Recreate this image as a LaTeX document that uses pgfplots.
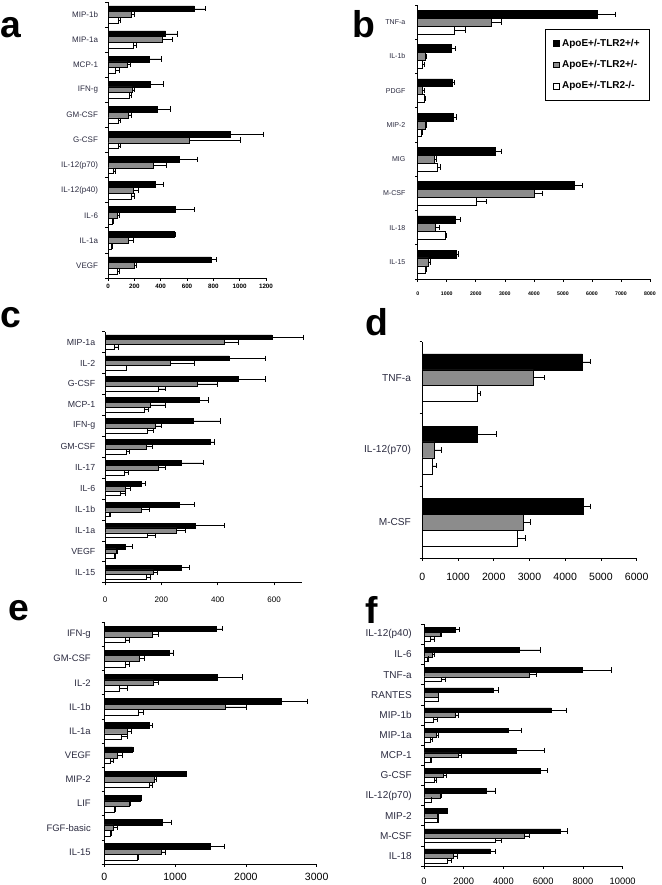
\documentclass[border=0pt]{standalone}
\usepackage{fontspec}
\setmainfont{Liberation Sans}
\usepackage{pgfplots}
\usepackage{pgfplotstable}
\pgfplotsset{compat=1.18}
\definecolor{barg}{HTML}{8C8C8C}
\definecolor{lab}{HTML}{2B2B40}

% panel a
\pgfplotstableread{
k b be g ge w we
0 656 86 173 30 76 18
1 437 89 412 76 191 25
2 310 94 145 25 58 26
3 318 102 186 17 165 13
4 376 94 153 25 76 18
5 928 254 618 386 76 18
6 542 137 343 102 38 20
7 356 64 191 38 173 25
8 508 148 69 20 30 8
9 501 7 153 38 25 8
10 781 45 203 13 69 20
}\tabA
% panel b
\pgfplotstableread{
k b be g ge w we
0 6200 597 2549 344 1263 367
1 1148 138 253 57 161 57
2 1194 69 161 57 218 35
3 1228 115 276 34 138 34
4 2687 183 574 80 689 80
5 5396 287 4018 287 2032 345
6 1286 172 597 149 941 58
7 1343 57 367 58 253 57
}\tabB
% panel c
\pgfplotstableread{
k b be g ge w we
0 592 110 422 49 32 15
1 440 128 231 85 75 2
2 473 95 329 70 189 24
3 334 32 162 51 138 16
4 314 94 180 19 151 21
5 375 12 148 18 77 8
6 270 80 189 25 67 14
7 127 15 71 18 53 18
8 263 53 127 29 15 3
9 320 104 254 30 151 27
10 71 27 39 5 32 4
11 270 28 172 15 148 12
}\tabC
% panel d
\pgfplotstableread{
k b be g ge w we
0 4478 214 3106 299 1549 83
1 1549 531 336 186 289 112
2 4506 186 2827 187 2650 220
}\tabD
% panel e
\pgfplotstableread{
k b be g ge w we
0 1578 89 683 80 292 61
1 918 57 495 70 292 61
2 1597 353 692 71 212 113
3 2506 362 1715 287 480 71
4 636 47 325 52 245 80
5 396 10 184 75 80 47
6 1149 14 702 38 631 52
7 513 10 353 10 137 14
8 820 131 127 57 80 24
9 1503 193 801 66 471 9
}\tabE
% panel f
\pgfplotstableread{
k b be g ge w we
0 1594 185 805 84 302 201
1 4799 1040 436 84 168 50
2 7987 1459 5302 369 889 168
3 3490 252 721 20 721 20
4 6393 755 1560 168 470 201
5 4245 671 638 83 336 100
6 4664 1393 1728 134 302 50
7 5839 386 973 168 520 118
8 3121 453 805 84 352 30
9 1141 20 688 30 671 30
10 6879 336 5034 251 3607 269
11 3322 285 1477 218 1174 185
}\tabF

\pgfplotsset{
 panel/.style={
   scale only axis, anchor=south west,
   axis lines*=left, axis line style={-, black, line width=0.5pt},
   xmin=0, ymin=0, enlargelimits=false, clip=false,
   tick align=outside, major tick length=2pt,
   tick style={black, line width=0.5pt},
   scaled x ticks=false,
   /pgf/number format/assume math mode=true,
   /pgf/number format/1000 sep={},
   yticklabels={},
   extra y tick style={major tick length=0pt},
   yticklabel style={text=lab},
   xbar, bar width=0.23,
   error bars/x dir=plus, error bars/x explicit,
   error bars/error bar style={black, line width=0.4pt},
   error bars/error mark options={black, line width=0.4pt, mark size=2pt, rotate=90},
 },
 sb/.style={fill=black, draw=black, line width=0.4pt, bar shift=0.23},
 sg/.style={fill=barg, draw=black, line width=0.4pt, bar shift=0},
 sw/.style={fill=white, draw=black, line width=0.4pt, bar shift=-0.23},
}

\begin{document}
\begin{tikzpicture}
\path[use as bounding box] (0pt,0pt) rectangle (495.75pt,-663.75pt);

% letters
\node[anchor=base west, inner sep=0pt, font=\fontsize{28}{28}\selectfont\bfseries] at (0pt,-27.75pt) {a};
\node[anchor=base west, inner sep=0pt, font=\fontsize{28}{28}\selectfont\bfseries] at (264pt,-27.75pt) {b};
\node[anchor=base west, inner sep=0pt, font=\fontsize{28}{28}\selectfont\bfseries] at (0pt,-245.25pt) {c};
\node[anchor=base west, inner sep=0pt, font=\fontsize{28}{28}\selectfont\bfseries] at (273.75pt,-251.25pt) {d};
\node[anchor=base west, inner sep=0pt, font=\fontsize{28}{28}\selectfont\bfseries] at (6pt,-465pt) {e};
\node[anchor=base west, inner sep=0pt, font=\fontsize{28}{28}\selectfont\bfseries] at (273.75pt,-467.25pt) {f};

% ---------- a ----------
\begin{axis}[panel, at={(81pt,-208.5pt)}, width=118.5pt, height=207pt,
  xmax=1200, ymax=11, xtick={0,200,...,1200}, ytick={0,...,11},
  extra y ticks={0.5,1.5,...,10.5},
  extra y tick labels={VEGF,IL-1a,IL-6,IL-12(p40),IL-12(p70),G-CSF,GM-CSF,IFN-g,MCP-1,MIP-1a,MIP-1b},
  yticklabel style={font=\fontsize{6}{7}\selectfont, xshift=-4pt},
  xticklabel style={font=\fontsize{4.7}{5}\selectfont\bfseries, yshift=1pt}]
\addplot[sb] table[x=b, y expr=10.5-\thisrow{k}, x error=be] {\tabA};
\addplot[sg] table[x=g, y expr=10.5-\thisrow{k}, x error=ge] {\tabA};
\addplot[sw] table[x=w, y expr=10.5-\thisrow{k}, x error=we] {\tabA};
\end{axis}

% ---------- b ----------
\begin{axis}[panel, at={(313.3pt,-209.25pt)}, width=174.2pt, height=205.5pt,
  xmax=8000, ymax=8, xtick={0,1000,...,8000}, ytick={0,...,8},
  extra y ticks={0.5,1.5,...,7.5},
  extra y tick labels={IL-15,IL-18,M-CSF,MIG,MIP-2,PDGF,IL-1b,TNF-a},
  yticklabel style={font=\fontsize{5.3}{6}\selectfont, xshift=-5.7pt},
  xticklabel style={font=\fontsize{3.9}{4.5}\selectfont\bfseries, yshift=-4pt},
  legend image code/.code={\draw[#1, line width=0.4pt] (0pt,-2.2pt) rectangle (4.4pt,2.2pt);},
  legend cell align=left,
  legend style={at={(1,0.912)}, anchor=north east, draw=black, line width=0.6pt,
    font=\fontsize{7.5}{9}\selectfont\bfseries, row sep=5pt, inner xsep=5.5pt, inner ysep=5pt}]
\addplot[sb] table[x=b, y expr=7.5-\thisrow{k}, x error=be] {\tabB};
\addlegendentry{ApoE+/-TLR2+/+}
\addplot[sg] table[x=g, y expr=7.5-\thisrow{k}, x error=ge] {\tabB};
\addlegendentry{ApoE+/-TLR2+/-}
\addplot[sw] table[x=w, y expr=7.5-\thisrow{k}, x error=we] {\tabB};
\addlegendentry{ApoE+/-TLR2-/-}
\end{axis}

% ---------- c ----------
\begin{axis}[panel, at={(78.75pt,-437pt)}, width=148pt, height=188.25pt,
  xmax=700, ymax=12, xtick={0,200,400,600}, ytick={0,...,12},
  extra y ticks={0.5,1.5,...,11.5},
  extra y tick labels={IL-15,VEGF,IL-1a,IL-1b,IL-6,IL-17,GM-CSF,IFN-g,MCP-1,G-CSF,IL-2,MIP-1a},
  yticklabel style={font=\fontsize{6.6}{7.5}\selectfont, xshift=-3.8pt},
  xticklabel style={font=\fontsize{6}{7}\selectfont, yshift=-4.8pt}]
\addplot[sb] table[x=b, y expr=11.5-\thisrow{k}, x error=be] {\tabC};
\addplot[sg] table[x=g, y expr=11.5-\thisrow{k}, x error=ge] {\tabC};
\addplot[sw] table[x=w, y expr=11.5-\thisrow{k}, x error=we] {\tabC};
\end{axis}

% ---------- d ----------
\begin{axis}[panel, at={(316.7pt,-418.7pt)}, width=160.8pt, height=162.5pt,
  xmax=6000, ymax=3, xtick={0,1000,...,6000}, ytick={0,...,3},
  extra y ticks={0.5,1.5,2.5},
  extra y tick labels={M-CSF,IL-12(p70),TNF-a},
  yticklabel style={font=\fontsize{7.6}{9}\selectfont, xshift=-5pt},
  xticklabel style={font=\fontsize{7.9}{9}\selectfont, yshift=-5.7pt}, bar width=0.22]
\addplot[sb, bar shift=0.22] table[x=b, y expr=2.5-\thisrow{k}, x error=be] {\tabD};
\addplot[sg] table[x=g, y expr=2.5-\thisrow{k}, x error=ge] {\tabD};
\addplot[sw, bar shift=-0.22] table[x=w, y expr=2.5-\thisrow{k}, x error=we] {\tabD};
\end{axis}

% ---------- e ----------
\begin{axis}[panel, at={(78.2pt,-648pt)}, width=159.3pt, height=181.3pt,
  xmax=3000, ymax=10, xtick={0,1000,2000,3000}, ytick={0,...,10},
  extra y ticks={0.5,1.5,...,9.5},
  extra y tick labels={IL-15,FGF-basic,LIF,MIP-2,VEGF,IL-1a,IL-1b,IL-2,GM-CSF,IFN-g},
  yticklabel style={font=\fontsize{7.1}{8.5}\selectfont, xshift=-6.6pt},
  xticklabel style={font=\fontsize{7.9}{9}\selectfont, yshift=-1.2pt}]
\addplot[sb] table[x=b, y expr=9.5-\thisrow{k}, x error=be] {\tabE};
\addplot[sg] table[x=g, y expr=9.5-\thisrow{k}, x error=ge] {\tabE};
\addplot[sw] table[x=w, y expr=9.5-\thisrow{k}, x error=we] {\tabE};
\end{axis}

% ---------- f ----------
\begin{axis}[panel, at={(318pt,-649.5pt)}, width=149pt, height=181.3pt,
  xmax=10000, ymax=12, xtick={0,2000,...,10000}, ytick={0,...,12},
  extra y ticks={0.5,1.5,...,11.5},
  extra y tick labels={IL-18,M-CSF,MIP-2,IL-12(p70),G-CSF,MCP-1,MIP-1a,MIP-1b,RANTES,TNF-a,IL-6,IL-12(p40)},
  yticklabel style={font=\fontsize{7.5}{9}\selectfont, xshift=-5.7pt},
  xticklabel style={font=\fontsize{7}{8.5}\selectfont, yshift=-3.3pt}]
\addplot[sb] table[x=b, y expr=11.5-\thisrow{k}, x error=be] {\tabF};
\addplot[sg] table[x=g, y expr=11.5-\thisrow{k}, x error=ge] {\tabF};
\addplot[sw] table[x=w, y expr=11.5-\thisrow{k}, x error=we] {\tabF};
\end{axis}
\end{tikzpicture}
\end{document}
